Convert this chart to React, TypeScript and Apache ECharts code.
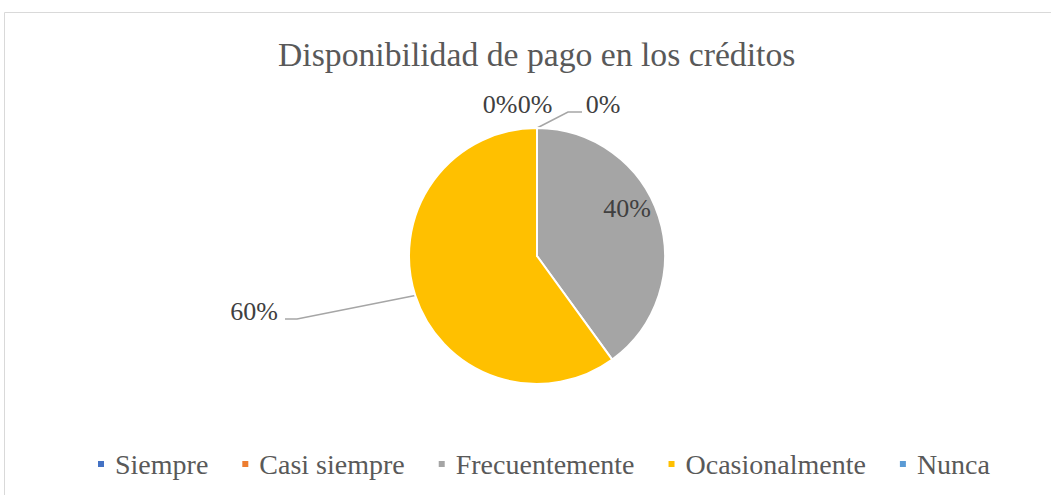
import React, { useEffect, useRef } from "react";
import * as echarts from "echarts";

const titleText = "Disponibilidad de pago en los créditos";
const categories = ["Siempre", "Casi siempre", "Frecuentemente", "Ocasionalmente", "Nunca"];
const values = [0, 0, 40, 60, 0];
const colors = ["#4472C4", "#ED7D31", "#A5A5A5", "#FFC000", "#5B9BD5"];
const showLine = [false, false, false, true, true];

const FONT = "Liberation Serif";

// label centre positions (Excel-style placement)
const labelSpots: [number, number][] = [
  [500, 104],
  [535, 104],
  [627, 208],
  [254, 311],
  [603, 104],
];
// label line bend/end points (start comes from the pie edge)
const labelLineTails: [number, number][][] = [
  [],
  [],
  [],
  [[297, 319], [285, 319]],
  [[568, 112], [582, 112]],
];

export default function App() {
  const ref = useRef<HTMLDivElement>(null);
  useEffect(() => {
    document.body.style.margin = "0";
    const chart = echarts.init(ref.current!, null, { renderer: "svg" });
    chart.setOption({
      animation: false,
      backgroundColor: "#ffffff",
      textStyle: { fontFamily: FONT },
      title: {
        text: titleText,
        left: 273,
        top: 32,
        textStyle: { fontFamily: FONT, fontSize: 33.7, fontWeight: "normal", color: "#595959" },
      },
      legend: {
        left: 91,
        top: 445,
        icon: "rect",
        itemWidth: 8,
        itemHeight: 8,
        itemGap: 32,
        data: categories,
        textStyle: { fontFamily: FONT, fontSize: 28, fontWeight: "normal", color: "#595959", padding: [0, 0, 0, 5] },
      },
      graphic: [
        {
          type: "rect",
          shape: { x: 4.5, y: 12.5, width: 1200, height: 700 },
          style: { fill: "none", stroke: "#d9d9d9", lineWidth: 1 },
          silent: true,
        },
      ],
      series: [
        {
          type: "pie",
          center: [537, 256],
          radius: 128,
          startAngle: 90,
          clockwise: true,
          avoidLabelOverlap: false,
          percentPrecision: 0,
          itemStyle: { borderColor: "#ffffff", borderWidth: 2 },
          label: {
            show: true,
            position: "outside",
            formatter: "{d}%",
            fontFamily: FONT,
            fontWeight: "normal",
            fontSize: 26,
            color: "#404040",
          },
          labelLine: { show: true, lineStyle: { color: "#a6a6a6", width: 1.5 } },
          labelLayout: (params: any) => {
            const i = params.dataIndex;
            const [x, y] = labelSpots[i];
            const res: any = { x, y, align: "center", verticalAlign: "middle", hideOverlap: false };
            if (showLine[i] && params.labelLinePoints) {
              res.labelLinePoints = [params.labelLinePoints[0], ...labelLineTails[i]];
            }
            return res;
          },
          data: categories.map((name, i) => ({
            name,
            value: values[i],
            itemStyle: { color: colors[i] },
            labelLine: { show: showLine[i] },
          })),
        },
      ],
    });
    return () => chart.dispose();
  }, []);
  return <div ref={ref} style={{ width: 1051, height: 495 }} />;
}
